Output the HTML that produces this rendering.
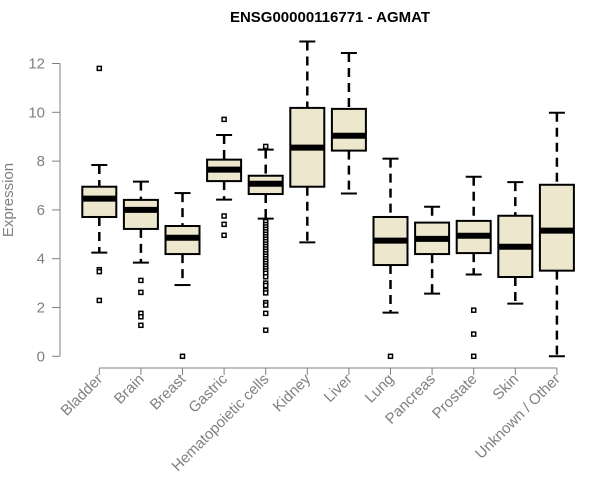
<!DOCTYPE html>
<html><head><meta charset="utf-8"><style>body{margin:0;background:#fff}svg{display:block}</style></head>
<body>
<svg id="chart" width="600" height="500" xmlns="http://www.w3.org/2000/svg" font-family="Liberation Sans, sans-serif"></svg>
<script>
const categories=["Bladder","Brain","Breast","Gastric","Hematopoietic cells","Kidney","Liver","Lung","Pancreas","Prostate","Skin","Unknown / Other"];
const whiskerLow=[4.25,3.84,2.92,6.42,5.64,4.67,6.67,1.79,2.57,3.35,2.16,0];
const q1=[5.71,5.22,4.19,7.18,6.65,6.95,8.43,3.74,4.19,4.23,3.25,3.51];
const medians=[6.46,6.0,4.86,7.65,7.07,8.55,9.04,4.74,4.81,4.94,4.49,5.15];
const q3=[6.95,6.41,5.34,8.06,7.4,10.18,10.14,5.71,5.48,5.55,5.76,7.03];
const whiskerHigh=[7.84,7.16,6.69,9.07,8.47,12.9,12.43,8.1,6.13,7.36,7.14,9.98];
const outliers=[[11.8,3.55,3.47,2.29],[3.11,2.62,1.76,1.62,1.27],[0],[9.71,5.75,5.41,4.96],
[8.6,5.52,5.4,5.3,5.2,5.1,5.0,4.9,4.8,4.7,4.6,4.5,4.4,4.3,4.2,4.1,4.0,3.9,3.8,3.7,3.6,3.5,3.4,3.26,3.0,2.9,2.7,2.6,2.2,2.1,1.76,1.07],
[],[],[0],[],[1.89,0.91,0],[],[]];
const yTicks=[0,2,4,6,8,10,12];
const svg=document.getElementById('chart');
const NS='http://www.w3.org/2000/svg';
const X=i=>99.3+41.6*i;
const Y=v=>356.3-24.4*v;
function mk(t,a,p){const e=document.createElementNS(NS,t);for(const k in a)e.setAttribute(k,a[k]);(p||svg).appendChild(e);return e;}
const title=mk('text',{x:330,y:22,'text-anchor':'middle','font-size':15,'font-weight':'bold',fill:'#000'});
title.textContent='ENSG00000116771 - AGMAT';


const yl=mk('text',{x:0,y:0,transform:'translate(13,200) rotate(-90)','text-anchor':'middle','font-size':15,fill:'#808080'});
yl.textContent='Expression';


const ya=mk('g',{});


mk('line',{x1:60,x2:60,y1:Y(12),y2:Y(0),stroke:'#808080'},ya);
yTicks.forEach(t=>{mk('line',{x1:52,x2:60,y1:Y(t),y2:Y(t),stroke:'#808080'},ya);
const tl=mk('text',{x:45,y:Y(t)+5,'text-anchor':'end','font-size':15,fill:'#808080'},ya);tl.textContent=t;

});
const xa=mk('g',{});


mk('line',{x1:X(0),x2:X(11),y1:368,y2:368,stroke:'#808080'},xa);
categories.forEach((c,i)=>{const x=X(i);
mk('line',{x1:x,x2:x,y1:368,y2:375,stroke:'#808080'},xa);
const t=mk('text',{x:0,y:0,transform:`translate(${x+4},${380}) rotate(-45)`,'text-anchor':'end','font-size':15,fill:'#808080'},xa);t.textContent=c;


const g=mk('g',{});


mk('line',{x1:x,x2:x,y1:Y(whiskerHigh[i]),y2:Y(q3[i]),stroke:'#000','stroke-width':2.5,'stroke-dasharray':'9,6'},g);
mk('line',{x1:x,x2:x,y1:Y(q1[i]),y2:Y(whiskerLow[i]),stroke:'#000','stroke-width':2.5,'stroke-dasharray':'9,6'},g);
mk('line',{x1:x-8,x2:x+8,y1:Y(whiskerHigh[i]),y2:Y(whiskerHigh[i]),stroke:'#000','stroke-width':2},g);
mk('line',{x1:x-8,x2:x+8,y1:Y(whiskerLow[i]),y2:Y(whiskerLow[i]),stroke:'#000','stroke-width':2},g);
mk('rect',{x:x-17,y:Y(q3[i]),width:34,height:Y(q1[i])-Y(q3[i]),fill:'#ede7cd',stroke:'#000','stroke-width':2},g);
mk('line',{x1:x-17,x2:x+17,y1:Y(medians[i]),y2:Y(medians[i]),stroke:'#000','stroke-width':6},g);
outliers[i].forEach(o=>{const p=mk('rect',{x:x-2,y:Y(o)-2,width:4,height:4,fill:'#fff',stroke:'#000','stroke-width':1.5},g);

});
});
</script>
</body></html>
